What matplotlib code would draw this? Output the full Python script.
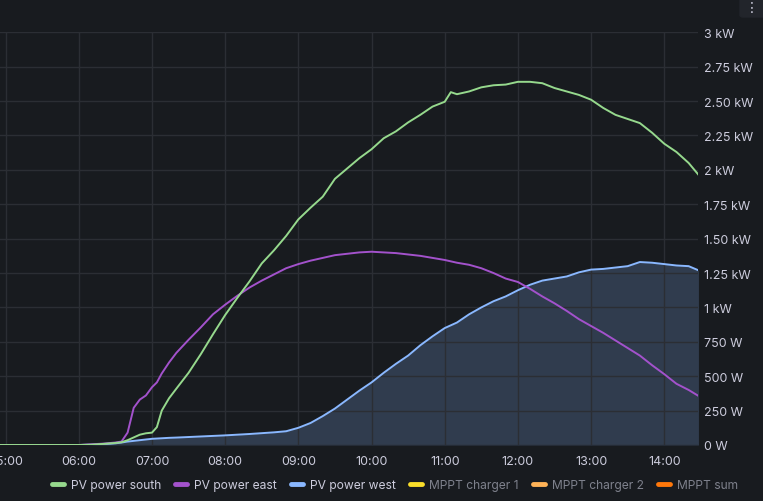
import matplotlib
matplotlib.use("Agg")
import matplotlib.pyplot as plt
from matplotlib.lines import Line2D
from matplotlib.patches import FancyBboxPatch
from matplotlib.ticker import FixedLocator, FuncFormatter
import numpy as np

# time of day (HH:MM) and power in W
times = ["04:50", "05:30", "06:00", "06:10", "06:20", "06:30", "06:35", "06:40",
         "06:45", "06:50", "06:55", "07:00", "07:04", "07:08", "07:14", "07:20",
         "07:30", "07:40", "07:50", "08:00", "08:10", "08:20", "08:30", "08:40",
         "08:50", "09:00", "09:10", "09:20", "09:30", "09:40", "09:50", "10:00",
         "10:10", "10:20", "10:30", "10:40", "10:50", "11:00", "11:05", "11:10",
         "11:20", "11:30", "11:40", "11:50", "12:00", "12:10", "12:20", "12:30",
         "12:40", "12:50", "13:00", "13:10", "13:20", "13:30", "13:40", "13:50",
         "14:00", "14:10", "14:20", "14:28"]
pv_south = [0, 0, 0, 2, 8, 15, 20, 35,
            55, 75, 85, 90, 130, 250, 340, 410,
            525, 660, 805, 945, 1070, 1190, 1320, 1415,
            1520, 1640, 1725, 1805, 1935, 2010, 2085, 2150,
            2230, 2280, 2345, 2400, 2460, 2495, 2565, 2550,
            2570, 2600, 2615, 2620, 2640, 2640, 2630, 2595,
            2570, 2545, 2510, 2450, 2400, 2370, 2340, 2270,
            2190, 2130, 2050, 1965]
pv_east = [0, 0, 0, 5, 10, 18, 25, 90,
           270, 330, 360, 420, 455, 520, 600, 670,
           765, 855, 950, 1020, 1085, 1145, 1195, 1240,
           1285, 1315, 1340, 1360, 1380, 1390, 1400, 1405,
           1400, 1395, 1385, 1375, 1360, 1345, 1335, 1325,
           1310, 1285, 1250, 1210, 1185, 1135, 1080, 1030,
           975, 915, 865, 815, 760, 705, 650, 580,
           515, 445, 400, 357]
pv_west = [0, 0, 0, 2, 6, 12, 18, 25,
           30, 35, 40, 45, 47, 49, 52, 54,
           58, 62, 66, 70, 75, 80, 86, 92,
           100, 125, 160, 210, 265, 330, 395, 455,
           525, 590, 650, 725, 790, 850, 870, 890,
           950, 1000, 1045, 1080, 1125, 1165, 1195, 1210,
           1225, 1255, 1275, 1280, 1290, 1300, 1330, 1325,
           1315, 1305, 1300, 1270]

y_ticks = [0, 250, 500, 750, 1000, 1250, 1500, 1750, 2000, 2250, 2500, 2750, 3000]
y_labels = ["0 W", "250 W", "500 W", "750 W", "1 kW", "1.25 kW", "1.50 kW", "1.75 kW",
            "2 kW", "2.25 kW", "2.50 kW", "2.75 kW", "3 kW"]
x_ticks = [5, 6, 7, 8, 9, 10, 11, 12, 13, 14]

legend_names = ["PV power south", "PV power east", "PV power west",
                "MPPT charger 1", "MPPT charger 2", "MPPT sum"]
legend_colors = ["#96d98d", "#a352cc", "#8ab8ff", "#fade2a", "#ffb357", "#ff780a"]

bg = "#181b1f"
txt = "#ccccdc"
dim = "#7e818c"
grid = "#2b2e34"

plt.rcParams["font.family"] = ["Inter", "DejaVu Sans"]

t = np.array([int(s[:2]) + int(s[3:]) / 60 for s in times])

fig = plt.figure(figsize=(7.63, 5.02), dpi=100, facecolor=bg)
ax = fig.add_axes([0, 1 - 446 / 502, 698 / 763, (446 - 33.3) / 502])
ax.set_facecolor(bg)

ax.fill_between(t, pv_west, color=legend_colors[2], alpha=0.21, lw=0, zorder=1)
ax.plot(t, pv_west, color=legend_colors[2], lw=1.4, zorder=3)
ax.plot(t, pv_east, color=legend_colors[1], lw=1.4, zorder=3)
ax.plot(t, pv_south, color=legend_colors[0], lw=1.4, zorder=3)

ax.set_xlim(4.923, 14.461)
ax.set_ylim(0, 3000)

ax.yaxis.set_major_locator(FixedLocator(y_ticks))
ax.set_yticklabels(y_labels)
ax.yaxis.tick_right()
ax.xaxis.set_major_locator(FixedLocator(x_ticks))
ax.xaxis.set_major_formatter(FuncFormatter(lambda v, p: "%02d:00" % int(round(v))))

ax.tick_params(axis="both", length=0, colors=txt, labelsize=9)
ax.tick_params(axis="y", pad=4)
ax.tick_params(axis="x", pad=7)
ax.grid(True, color=grid, lw=1, zorder=2)
ax.set_axisbelow(False)
for sp in ax.spines.values():
    sp.set_visible(False)

handles = [Line2D([0], [0], color=c, lw=3.5, solid_capstyle="round") for c in legend_colors]
leg = fig.legend(handles, legend_names, loc="center", ncol=6,
                 bbox_to_anchor=(395 / 763, 1 - 486 / 502), frameon=False,
                 fontsize=8.7, handlelength=1.0, handletextpad=0.55, columnspacing=1.2)
for i, tx in enumerate(leg.get_texts()):
    tx.set_color(txt if i < 3 else dim)

# panel menu button in the top right corner
fig.patches.append(FancyBboxPatch((740 / 763, 1 - 18 / 502), 26 / 763, 24 / 502,
                                  boxstyle="round,pad=0,rounding_size=0.004",
                                  transform=fig.transFigure, color="#22252b", zorder=0))
fig.text(752 / 763, 1 - 8 / 502, "⋮", color=txt, fontsize=10,
         ha="center", va="center", family="DejaVu Sans")

fig.savefig("out.png", dpi=100, facecolor=bg)
